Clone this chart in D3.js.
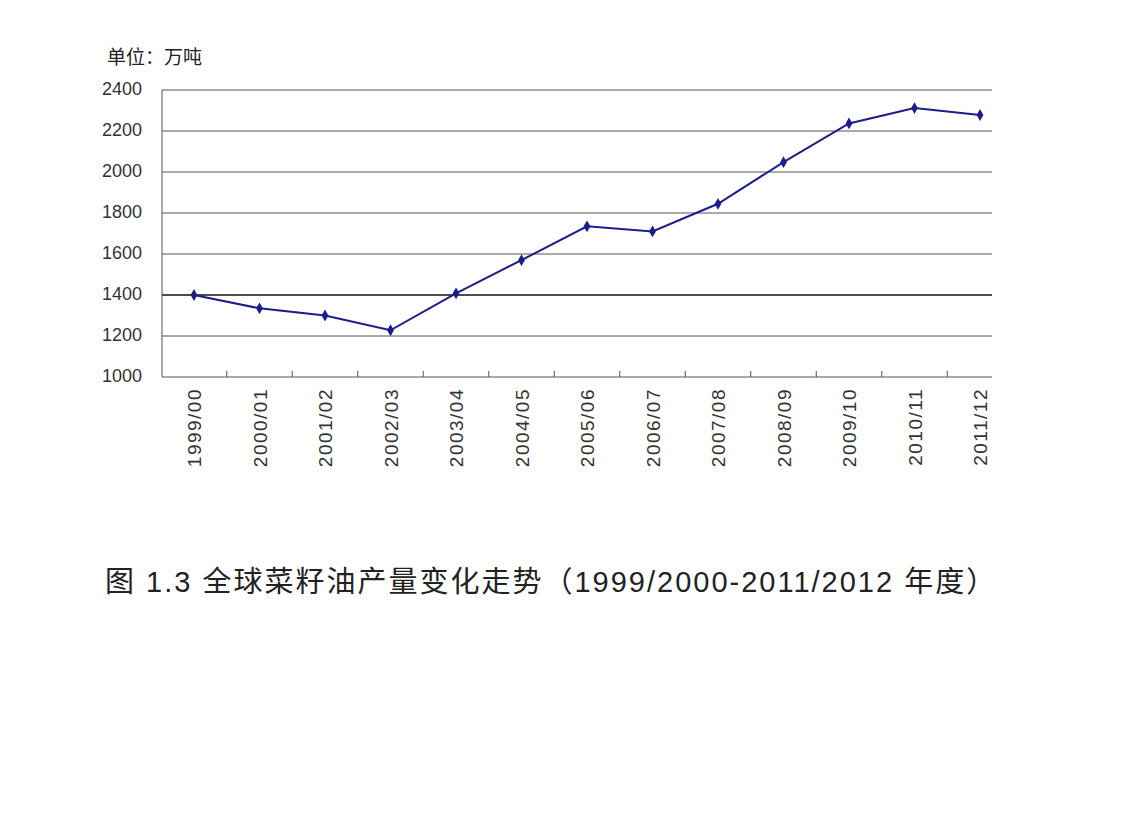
<!DOCTYPE html>
<html lang="zh">
<head>
<meta charset="UTF-8">
<script src="https://d3js.org/d3.v7.min.js"></script>
<style>
  body {margin:0; background:#fff;}
  text {font-family: "Liberation Sans", "Noto Sans CJK SC", sans-serif;}
</style>
</head>
<body>
<script>
    const width = 1144;
    const height = 814;

    const seasons = ["1999/00","2000/01","2001/02","2002/03","2003/04","2004/05","2005/06",
                     "2006/07","2007/08","2008/09","2009/10","2010/11","2011/12"];
    const output = [1400,1335,1300,1228,1408,1570,1735,1710,1845,2048,2237,2312,2278];
    const yTicks = [1000,1200,1400,1600,1800,2000,2200,2400];

    const plot = {left:162, right:992, top:90, bottom:377};

    const svg = d3.select("body").append("svg")
            .attr("width", width).attr("height", height);

    const x = d3.scalePoint().domain(seasons).range([194, 980]);
    const y = d3.scaleLinear().domain([1000,2400]).range([plot.bottom, plot.top]);

    svg.append("g").selectAll("line").data(yTicks).join("line")
            .attr("x1", plot.left).attr("x2", plot.right)
            .attr("y1", d => y(d)).attr("y2", d => y(d))
            .style("stroke", d => d === 1400 ? "#111" : "#555")
            .style("stroke-width", d => d === 1400 ? 1.5 : 1);

    svg.append("line")
            .attr("x1", plot.left).attr("x2", plot.left)
            .attr("y1", plot.top).attr("y2", plot.bottom)
            .style("stroke", "#555");

    svg.append("g").selectAll("text").data(yTicks).join("text")
            .attr("x", plot.left - 20).attr("y", d => y(d))
            .attr("text-anchor", "end").attr("dominant-baseline", "middle")
            .style("font-size", "18px").style("fill", "#333")
            .text(d => d);

    // x ticks between categories
    svg.append("g").selectAll("line").data(seasons.slice(1)).join("line")
            .attr("x1", d => x(d) - x.step()/2).attr("x2", d => x(d) - x.step()/2)
            .attr("y1", plot.bottom - 6).attr("y2", plot.bottom)
            .style("stroke", "#555");

    svg.append("g").selectAll("text").data(seasons).join("text")
            .attr("transform", d => `translate(${x(d) + 7},${plot.bottom + 11}) rotate(-90)`)
            .attr("text-anchor", "end")
            .style("font-size", "19px").style("letter-spacing", "1.5px").style("fill", "#333")
            .text(d => d);

    const line = d3.line().x((d,i) => x(seasons[i])).y(d => y(d));

    svg.append("path").datum(output)
            .attr("d", line)
            .style("fill", "none").style("stroke", "#1c1c8c").style("stroke-width", 2);

    svg.append("g").selectAll("path").data(output).join("path")
            .attr("d", d3.symbol(d3.symbolDiamond, 40))
            .attr("transform", (d,i) => `translate(${x(seasons[i])},${y(d)})`)
            .style("fill", "#1c1c8c");

    svg.append("text").attr("x", 107).attr("y", 64)
            .style("font-size", "19px").style("fill", "#222")
            .text("单位：万吨");

    svg.append("text").attr("x", 105).attr("y", 592)
            .style("font-size", "29px").style("letter-spacing", "2px").style("fill", "#222")
            .text("图 1.3  全球菜籽油产量变化走势（1999/2000-2011/2012 年度）");
</script>
</body>
</html>
